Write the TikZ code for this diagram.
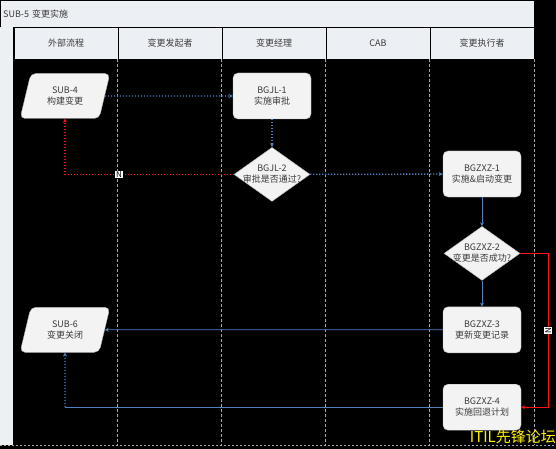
\documentclass[tikz,border=0pt]{standalone}
\usepackage{fontspec}
\setmainfont{Noto Sans CJK SC}
\usepackage{xcolor}
\usepackage{tikz}
\usetikzlibrary{arrows.meta,positioning,shapes.geometric,calc}

\definecolor{flowblue}{HTML}{4F81BD}
\definecolor{flowred}{HTML}{FF1010}
\definecolor{boxfill}{HTML}{F3F3F3}
\definecolor{headfill}{HTML}{ECEFF3}
\definecolor{textgray}{HTML}{3A3A3A}

\begin{document}
\begin{tikzpicture}[
  x = 1pt, y = -1pt,
  font = \fontsize{9}{11}\selectfont,
  proc/.style = {draw=gray!60, fill=boxfill, rounded corners=5pt,
                 minimum width=78pt, minimum height=46pt,
                 align=center, text=textgray, inner sep=2pt},
  dec/.style  = {diamond, draw=gray!60, fill=boxfill, aspect=1.4,
                 minimum width=76pt, minimum height=54pt,
                 inner sep=-5pt, align=center, text=textgray},
  io/.style   = {trapezium, trapezium left angle=75, trapezium right angle=105,
                 trapezium stretches=true, draw=gray!60, fill=boxfill,
                 rounded corners=5pt, minimum width=90pt, minimum height=45pt,
                 align=center, text=textgray},
  lanehead/.style = {draw=black, fill=headfill, minimum width=104pt,
                 minimum height=32pt, inner sep=0pt, text=textgray},
  laneline/.style = {draw=gray!70, dash pattern=on 3pt off 2pt, line width=0.7pt},
  flow/.style    = {-{Stealth[length=4pt, width=4pt]}, flowblue, line width=0.8pt},
  dotflow/.style = {flow, line width=1.3pt, dash pattern=on 1.3pt off 1.7pt},
  noflow/.style  = {-{Stealth[length=4pt, width=4pt]}, flowred, line width=1.1pt},
  nlab/.style    = {fill=white, text=black, inner sep=0.8pt,
                    font=\fontsize{8}{8}\selectfont},
]

\useasboundingbox (0,0) rectangle (556,449);
\fill[black] (0,0) rectangle (556,449);

%% ── POOL FRAME ──────────────────────────────────────────────────────────
\node[draw=black, fill=headfill, anchor=north west, inner sep=3pt,
      text width=528pt, minimum height=27pt, align=left, text=textgray]
      (pool) at (0,0) {SUB-5 变更实施};
\fill[headfill] (0,27) rectangle (13,445);

%% ── LANE HEADERS ────────────────────────────────────────────────────────
\node[lanehead] (lane1) at (66,43)  {外部流程};
\node[lanehead] (lane2) at (170,43) {变更发起者};
\node[lanehead] (lane3) at (274,43) {变更经理};
\node[lanehead] (lane4) at (378,43) {CAB};
\node[lanehead] (lane5) at (482,43) {变更执行者};

\draw[laneline] (lane2.south west) -- ++(0,386);
\draw[laneline] (lane3.south west) -- ++(0,386);
\draw[laneline] (lane4.south west) -- ++(0,386);
\draw[laneline] (lane5.south west) -- ++(0,386);
\draw[laneline] (lane5.south east) -- ++(0,386);
\draw[draw=gray!70, dash pattern=on 2pt off 2pt, line width=0.7pt] (0,445) -- (556,445);

%% ── STEPS ───────────────────────────────────────────────────────────────
\node[io]   (sub4)   at (65,96)  {SUB-4\\构建变更};
\node[proc] (bgjl1)  at (272,96) {BGJL-1\\实施审批};
\node[dec, below=28pt of bgjl1] (bgjl2) {BGJL-2\\审批是否通过?};

\node[proc] (bgzxz1) at (482,174) {BGZXZ-1\\实施\&启动变更};
\node[dec,  below=29pt of bgzxz1] (bgzxz2) {BGZXZ-2\\变更是否成功?};
\node[proc, below=26pt of bgzxz2] (bgzxz3) {BGZXZ-3\\更新变更记录};
\node[proc, below=31pt of bgzxz3] (bgzxz4) {BGZXZ-4\\实施回退计划};
\node[io]   (sub6)   at (sub4 |- bgzxz3) {SUB-6\\变更关闭};

%% ── FLOW ────────────────────────────────────────────────────────────────
\draw[dotflow] (sub4)  -- (bgjl1);
\draw[dotflow] (bgjl1) -- (bgjl2);
\draw[dotflow] (bgjl2) -- (bgzxz1);
\draw[noflow, line width=1.3pt, dash pattern=on 1.3pt off 1.7pt]
    (bgjl2.west) -| node[nlab, pos=0.34]{N} (sub4.south);

\draw[flow] (bgzxz1) -- (bgzxz2);
\draw[flow] (bgzxz2) -- (bgzxz3);
\draw[noflow] (bgzxz2.east) -- ++(28,0)
    |- node[nlab, rotate=90, pos=0.25]{N} (bgzxz4.east);

%% back to the external process
\draw[flow] (bgzxz3) -- (sub6);
\coordinate (back) at (sub6 |- bgzxz4);
\draw[flowblue, line width=0.8pt] (bgzxz4.west) -- (back);
\draw[dotflow] (back) -- (sub6.south);

%% watermark
\node[anchor=east, text=yellow, inner sep=0pt,
      font=\fontsize{15}{15}\selectfont] (mark) at (556,437) {ITIL先锋论坛};

\end{tikzpicture}
\end{document}
